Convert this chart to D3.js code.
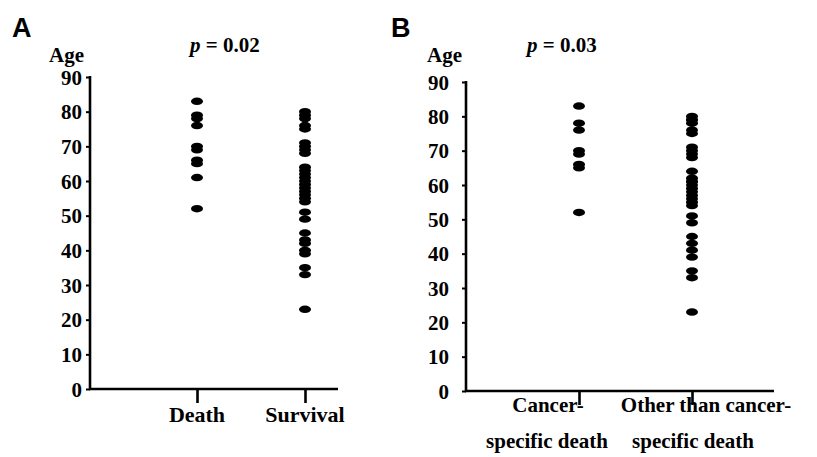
<!DOCTYPE html>
<html>
<head>
<meta charset="utf-8">
<script src="https://cdn.jsdelivr.net/npm/d3@7"></script>
<style>
  body { margin: 0; background: #fff; }
  svg text { font-family: "Liberation Serif", "Times New Roman", serif; font-weight: bold; fill: #000; }
  .panelLetter { font-family: "Liberation Sans", Arial, sans-serif !important; }
</style>
</head>
<body>
<script>
// values
const yTicks = [0, 10, 20, 30, 40, 50, 60, 70, 80, 90];

const catsA = ["Death", "Survival"];
const deathAges = [83, 79, 78, 76, 70, 69, 66, 65, 61, 52];
const survivalAges = [80, 79, 78, 76, 75, 71, 70, 69, 68, 64, 63, 62, 61, 60, 59, 58, 57, 56, 55, 54, 51, 49, 45, 43, 42, 40, 39, 35, 33, 23];
const pA = "0.02";

const catsB = [["Cancer-", "specific death"], ["Other than cancer-", "specific death"]];
const cancerDeathAges = [83, 78, 76, 70, 69, 66, 65, 52];
const otherDeathAges = [80, 79, 79, 78, 76, 75, 71, 70, 69, 68, 64, 62, 61, 61, 60, 59, 58, 57, 56, 55, 54, 51, 49, 45, 43, 41, 39, 35, 33, 23];
const pB = "0.03";

const W = 817, H = 457;

const svg = d3.select("body").append("svg")
    .attr("width", W)
    .attr("height", H);

function drawPanel(opt) {
    const g = svg.append("g");

    const y = d3.scaleLinear()
        .domain([0, 90])
        .range([opt.yBottom, opt.yTop]);

    const x = d3.scalePoint()
        .domain(opt.cats.map((c, i) => i))
        .range(opt.catRange);

    // panel letter
    g.append("text")
        .attr("class", "panelLetter")
        .attr("x", opt.letterX)
        .attr("y", 37)
        .style("font-size", "27px")
        .text(opt.letter);

    // y title
    g.append("text")
        .attr("x", opt.ageX)
        .attr("y", 62)
        .style("font-size", "21px")
        .text("Age");

    // p value
    const pt = g.append("text")
        .attr("x", opt.pX)
        .attr("y", 52)
        .style("font-size", "21px");
    pt.append("tspan").style("font-style", "italic").text("p");
    pt.append("tspan").text(" = " + opt.p);

    // y axis
    const yAxis = d3.axisLeft(y)
        .tickValues(yTicks)
        .tickSize(4)
        .tickPadding(opt.tickPad);
    const ya = g.append("g")
        .attr("transform", "translate(" + opt.xLeft + ",0)")
        .call(yAxis);
    ya.select(".domain").remove();
    ya.selectAll(".tick line").attr("stroke", "#000").attr("stroke-width", 2);
    ya.selectAll(".tick text")
        .style("font-size", "21px")
        .attr("dy", "0.34em");

    g.append("line")
        .attr("x1", opt.xLeft).attr("x2", opt.xLeft)
        .attr("y1", y(90) - 1).attr("y2", y(0) + 1)
        .attr("stroke", "#000").attr("stroke-width", 2.6);

    // x axis
    const xAxis = d3.axisBottom(x)
        .tickSize(14)
        .tickFormat("");
    const xa = g.append("g")
        .attr("transform", "translate(0," + y(0) + ")")
        .call(xAxis);
    xa.select(".domain").remove();
    xa.selectAll(".tick line").attr("stroke", "#000").attr("stroke-width", 2.6);

    g.append("line")
        .attr("x1", opt.xLeft - 1).attr("x2", opt.xRight)
        .attr("y1", y(0)).attr("y2", y(0))
        .attr("stroke", "#000").attr("stroke-width", 2.6);

    // category labels (lines of a label are shifted a bit off the tick, like the original)
    opt.cats.forEach(function(c, i) {
        const lines = Array.isArray(c) ? c : [c];
        const t = g.append("text")
            .attr("text-anchor", "middle")
            .attr("y", opt.labelY)
            .style("font-size", opt.labelSize);
        lines.forEach(function(l, j) {
            const shift = opt.labelShift ? opt.labelShift[i][j] : 0;
            t.append("tspan")
                .attr("x", x(i) + shift)
                .attr("dy", j === 0 ? 0 : 36)
                .text(l);
        });
    });

    // dots
    opt.series.forEach(function(vals, i) {
        g.selectAll(".dot" + i)
            .data(vals)
            .enter()
            .append("ellipse")
            .attr("class", "dot" + i)
            .attr("cx", x(i))
            .attr("cy", d => y(d))
            .attr("rx", 6)
            .attr("ry", 3.7)
            .attr("fill", "#000");
    });
}

drawPanel({
    letter: "A", letterX: 12,
    ageX: 49, pX: 190, p: pA,
    xLeft: 90, xRight: 338,
    yTop: 77, yBottom: 389,
    tickPad: 4,
    catRange: [197, 305],
    cats: catsA,
    labelY: 422,
    labelSize: "22px",
    series: [deathAges, survivalAges]
});

drawPanel({
    letter: "B", letterX: 391,
    ageX: 427, pX: 527, p: pB,
    xLeft: 466, xRight: 774,
    yTop: 82, yBottom: 391,
    tickPad: 13,
    catRange: [579, 692],
    cats: catsB,
    labelY: 412,
    labelSize: "21px",
    labelShift: [[-31, -32], [14, 1]],
    series: [cancerDeathAges, otherDeathAges]
});
</script>
</body>
</html>
